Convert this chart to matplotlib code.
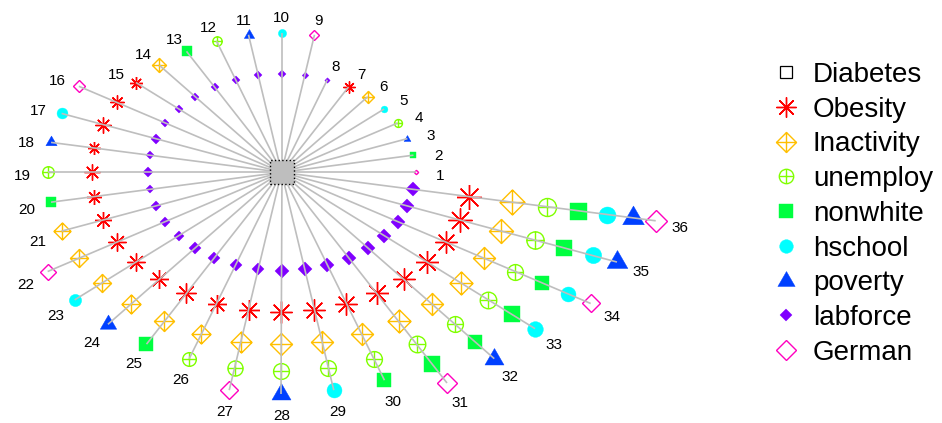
import numpy as np
import matplotlib
matplotlib.use('Agg')
import matplotlib.pyplot as plt
from matplotlib.path import Path
from matplotlib.lines import Line2D

plt.rcParams['font.family'] = ['Liberation Sans', 'DejaVu Sans']

# variables in the order they sit along a full spoke (inner -> outer)
prefix_vars = ['labforce', 'Obesity', 'Inactivity', 'unemploy', 'nonwhite', 'hschool', 'poverty']
# radius of each step along a spoke
step_radius = [134, 190, 234, 270, 301, 331, 357, 380]
# number of variables on each spoke (spokes 1..36)
spoke_depth = [1, 1, 1, 1, 1, 1, 1, 1,
               2, 2, 2, 2, 2, 2, 2,
               3, 3, 3, 3, 3, 3,
               4, 4, 4, 4, 4,
               5, 5, 5, 5,
               6, 6, 6,
               7, 7,
               8]
# outermost variable on each spoke
spoke_last = ['German', 'nonwhite', 'poverty', 'unemploy', 'hschool', 'Inactivity', 'Obesity', 'labforce',
              'German', 'hschool', 'poverty', 'unemploy', 'nonwhite', 'Inactivity', 'Obesity',
              'German', 'hschool', 'poverty', 'unemploy', 'nonwhite', 'Inactivity',
              'German', 'hschool', 'poverty', 'nonwhite', 'unemploy',
              'German', 'poverty', 'hschool', 'nonwhite',
              'German', 'poverty', 'hschool',
              'German', 'poverty',
              'German']
# symbol size on each spoke (pixels)
spoke_size = [5, 8, 8, 11, 10, 12, 12, 9, 11, 12, 12, 13, 14, 14, 13, 14, 16, 13,
              16, 15, 17, 18, 18, 19, 20, 19, 21, 22, 22, 22, 23, 22, 23, 22, 24, 25]

legend_names = ['Diabetes', 'Obesity', 'Inactivity', 'unemploy', 'nonwhite',
                'hschool', 'poverty', 'labforce', 'German']

# custom symbols
diamond_plus = Path.make_compound_path(
    Path([(0, 1), (1, 0), (0, -1), (-1, 0), (0, 1)],
         [Path.MOVETO, Path.LINETO, Path.LINETO, Path.LINETO, Path.CLOSEPOLY]),
    Path([(-1, 0), (1, 0)]), Path([(0, -1), (0, 1)]))
circle_plus = Path.make_compound_path(
    Path.unit_circle(), Path([(-1, 0), (1, 0)]), Path([(0, -1), (0, 1)]))

styles = {
    'Obesity':    dict(marker=(8, 2, 0), color='#FF0000', fill=False, k=1.0),
    'Inactivity': dict(marker=diamond_plus, color='#FFBF00', fill=False, k=1.0),
    'unemploy':   dict(marker=circle_plus, color='#80FF00', fill=False, k=0.72),
    'nonwhite':   dict(marker='s', color='#00FF40', fill=True, k=0.68),
    'hschool':    dict(marker='o', color='#00FFFF', fill=True, k=0.68),
    'poverty':    dict(marker=(3, 0, 0), color='#0040FF', fill=True, k=1.0),
    'labforce':   dict(marker='D', color='#8000FF', fill=True, k=0.42),
    'German':     dict(marker='D', color='#FF00BF', fill=False, k=0.61),
}


def marker_kw(name, width_px):
    st = styles[name]
    kw = dict(linestyle='none', marker=st['marker'], ms=width_px * 0.72 * st['k'])
    if st['fill']:
        kw.update(mfc=st['color'], mec=st['color'], mew=0.3)
    else:
        kw.update(mfc='none', mec=st['color'], mew=1.0)
    return kw


fig = plt.figure(figsize=(9.42, 4.23), dpi=100)
ax = fig.add_axes([0, 0, 1, 1])
ax.set_xlim(-281.5, 660.5)
ax.set_ylim(-341.1, 234.4)
ax.axis('off')

for i, depth in enumerate(spoke_depth):
    theta = np.deg2rad(i * 10)
    names = prefix_vars[:depth - 1] + [spoke_last[i]]
    for j, name in enumerate(names):
        r = step_radius[j]
        ax.plot(r * np.cos(theta), r * np.sin(theta), zorder=2,
                **marker_kw(name, spoke_size[i]))
    r_out = step_radius[depth - 1]
    ax.plot([0, r_out * np.cos(theta)], [0, r_out * np.sin(theta)],
            color='#bebebe', lw=1.2, zorder=3, solid_capstyle='butt')
    r_lab = r_out + 25
    ax.annotate(str(i + 1), xy=(r_lab * np.cos(theta), r_lab * np.sin(theta)),
                xytext=(0, -3), textcoords='offset points',
                ha='center', va='center', fontsize=11)

# centre node
ax.scatter([0], [0], marker='s', s=(24 * 0.72) ** 2, facecolor='#bebebe',
           edgecolor='black', linewidths=1.0, linestyle=':', zorder=4)

# legend
handles = [Line2D([], [], linestyle='none', marker='s', ms=8.6, mfc='none',
                  mec='black', mew=0.9)]
for name in legend_names[1:]:
    w = 20 * (1.16 if name == 'German' else 1.0)
    handles.append(Line2D([], [], **marker_kw(name, w)))
ax.legend(handles, legend_names, loc='upper left', bbox_to_anchor=(0.8195, 0.854),
          bbox_transform=fig.transFigure, frameon=False, fontsize=20,
          handlelength=1.0, handletextpad=0.47, labelspacing=0.315,
          borderpad=0, borderaxespad=0)

fig.savefig('out.png', dpi=100)
